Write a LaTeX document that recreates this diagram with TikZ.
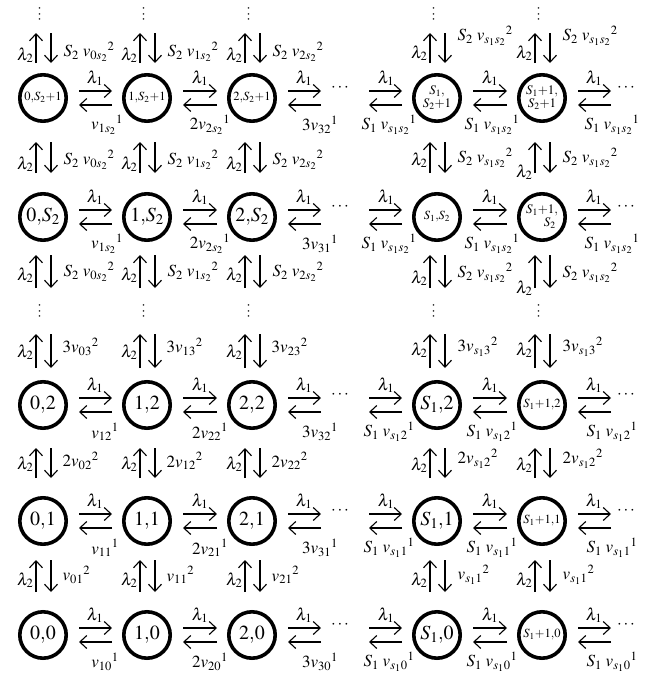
\documentclass[tikz,border=0pt]{standalone}
\usepackage{mathptmx}
\usetikzlibrary{arrows.meta}
\newcounter{lblc}
\tikzset{
 st/.style={circle,draw,line width=3.6pt,minimum size=46.4pt,inner sep=0pt,font=\fontsize{20}{22}\selectfont},
 sm/.style={font=\fontsize{12.5}{13}\selectfont},
 two/.style={font=\fontsize{13}{13}\selectfont,align=center},
 arr/.style={-{Straight Barb[length=7pt,width=13pt]},line width=1.1pt},
 lab/.style={font=\fontsize{17}{19}\selectfont,inner sep=0.5pt},
 dotsty/.style={font=\fontsize{15}{15}\selectfont,inner sep=0pt,rotate=90}
}
\newcommand\Lb[4][]{\stepcounter{lblc}\node[lab,#1] (l\thelblc) at (#2,#3) {$#4$};}
\newcommand\Hpr[4]{%
 \draw[arr] ([xshift=#2,yshift=7pt]#1) -- ([xshift=#4,yshift=7pt]#3);
 \draw[arr] ([xshift=#4,yshift=-7pt]#3) -- ([xshift=#2,yshift=-7pt]#1);}
\newcommand\Vpr[4]{%
 \draw[arr] ([xshift=-7pt,yshift=#2]#1) -- ([xshift=-7pt,yshift=#4]#3);
 \draw[arr] ([xshift=8pt,yshift=#4]#3) -- ([xshift=8pt,yshift=#2]#1);}
\begin{document}
\begin{tikzpicture}[x=1pt,y=-1pt]
\useasboundingbox (0,0) rectangle (651,680);
% states
\node[st,sm] (A0) at (43,98) {$0{,}S_2{+}1$};
\node[st,sm] (A1) at (147,98) {$1{,}S_2{+}1$};
\node[st,sm] (A2) at (252,98) {$2{,}S_2{+}1$};
\node[st,two] (A3) at (437,98) {$S_1{,}$\\$S_2{+}1$};
\node[st,two] (A4) at (542,98) {$S_1{+}1{,}$\\$S_2{+}1$};
\node[st] (B0) at (43,217) {$0{,}S_2$};
\node[st] (B1) at (147,217) {$1{,}S_2$};
\node[st] (B2) at (252,217) {$2{,}S_2$};
\node[st,sm] (B3) at (437,217) {$S_1{,}S_2$};
\node[st,two] (B4) at (542,217) {$S_1{+}1{,}$\\\hspace*{1.2em}$S_2$};
\foreach \r/\Y/\k in {C/405/2,D/521/1,E/635/0}{
 \node[st] (\r0) at (43,\Y) {$0{,}\k$};
 \node[st] (\r1) at (147,\Y) {$1{,}\k$};
 \node[st] (\r2) at (252,\Y) {$2{,}\k$};
 \node[st] (\r3) at (437,\Y) {$S_1{,}\k$};
 \node[st,sm] (\r4) at (542,\Y) {$S_1{+}1{,}\k$};
}
% horizontal transitions
\foreach \r/\Y in {A/98,B/217,C/405,D/521,E/635}{
 \coordinate (\r-R) at (321,\Y);
 \coordinate (\r-L) at (369,\Y);
 \coordinate (\r-E) at (611,\Y);
 \Hpr{\r0.east}{11pt}{\r1.west}{-10pt}
 \Hpr{\r1.east}{11pt}{\r2.west}{-10pt}
 \Hpr{\r2.east}{11pt}{\r-R}{0pt}
 \Hpr{\r-L}{0pt}{\r3.west}{-10pt}
 \Hpr{\r3.east}{11pt}{\r4.west}{-10pt}
 \Hpr{\r4.east}{11pt}{\r-E}{0pt}
 \foreach \lx in {95,200,304,386,490,594}{\Lb{\lx}{\Y-20}{\lambda_1}}
 \Lb{340}{\Y-10}{\cdots}
 \Lb{626}{\Y-10}{\cdots}
}
% vertical transitions
\foreach \c/\X in {0/43,1/147,2/252,3/437,4/542}{
 \coordinate (T\c) at (\X,33);
 \coordinate (Bd\c) at (\X,288);
 \coordinate (U\c) at (\X,334);
 \Vpr{A\c.north}{10pt}{T\c}{0pt}
 \Vpr{B\c.north}{19pt}{A\c.south}{-19pt}
 \Vpr{Bd\c}{0pt}{B\c.south}{-13pt}
 \Vpr{C\c.north}{12pt}{U\c}{0pt}
 \Vpr{D\c.north}{18pt}{C\c.south}{-18pt}
 \Vpr{E\c.north}{18pt}{D\c.south}{-14pt}
 \stepcounter{lblc}\node[dotsty] (l\thelblc) at (\X-3,14) {$\cdots$};
 \stepcounter{lblc}\node[dotsty] (l\thelblc) at (\X-3,311) {$\cdots$};
}
% lower horizontal labels
\Lb{107}{125}{{v_{1s_2}}^{1}}
\Lb{210}{125}{2{v_{2s_2}}^{1}}
\Lb{320}{125}{3{v_{32}}^{1}}
\Lb{107}{244}{{v_{1s_2}}^{1}}
\Lb{210}{244}{2{v_{2s_2}}^{1}}
\Lb{320}{244}{3{v_{31}}^{1}}
\foreach \lx in {389,492,612}{
 \Lb{\lx}{125}{S_1\;{v_{s_1s_2}}^{1}}
 \Lb{\lx}{244}{S_1\;{v_{s_1s_2}}^{1}}
 \Lb{\lx}{432}{S_1\;{v_{s_12}}^{1}}
 \Lb{\lx}{548}{S_1\;{v_{s_11}}^{1}}
 \Lb{\lx}{662}{S_1\;{v_{s_10}}^{1}}
}
\Lb{105}{432}{{v_{12}}^{1}}
\Lb{210}{432}{2{v_{22}}^{1}}
\Lb{320}{432}{3{v_{32}}^{1}}
\Lb{105}{548}{{v_{11}}^{1}}
\Lb{210}{548}{2{v_{21}}^{1}}
\Lb{320}{548}{3{v_{31}}^{1}}
\Lb{105}{662}{{v_{10}}^{1}}
\Lb{210}{662}{2{v_{20}}^{1}}
\Lb{320}{662}{3{v_{30}}^{1}}
% vertical labels, left block
\foreach \c/\X in {0/43,1/147,2/252}{
 \foreach \yl/\yr in {55/52,164/160,275/272}{
  \Lb[anchor=east]{\X-9}{\yl}{\lambda_2}
  \Lb[anchor=west]{\X+20}{\yr}{S_2\;{v_{\c s_2}}^{2}}
 }
 \Lb[anchor=east]{\X-9}{352}{\lambda_2}
 \Lb[anchor=west]{\X+19}{347}{3{v_{\c 3}}^{2}}
 \Lb[anchor=east]{\X-9}{464}{\lambda_2}
 \Lb[anchor=west]{\X+19}{461}{2{v_{\c 2}}^{2}}
 \Lb[anchor=east]{\X-9}{580}{\lambda_2}
 \Lb[anchor=west]{\X+19}{575}{{v_{\c 1}}^{2}}
}
% vertical labels, right block
\foreach \X/\ya/\yb in {437/160/278,542/172/288}{
 \Lb[anchor=east]{\X-9}{53}{\lambda_2}
 \Lb[anchor=west]{\X+20}{36}{S_2\;{v_{s_1s_2}}^{2}}
 \Lb[anchor=east]{\X-9}{\ya}{\lambda_2}
 \Lb[anchor=west]{\X+20}{158}{S_2\;{v_{s_1s_2}}^{2}}
 \Lb[anchor=east]{\X-9}{\yb}{\lambda_2}
 \Lb[anchor=west]{\X+20}{273}{S_2\;{v_{s_1s_2}}^{2}}
 \Lb[anchor=east]{\X-9}{350}{\lambda_2}
 \Lb[anchor=west]{\X+20}{347}{3{v_{s_13}}^{2}}
 \Lb[anchor=east]{\X-9}{465}{\lambda_2}
 \Lb[anchor=west]{\X+20}{459}{2{v_{s_12}}^{2}}
 \Lb[anchor=east]{\X-9}{580}{\lambda_2}
 \Lb[anchor=west]{\X+20}{575}{{v_{s_11}}^{2}}
}
\end{tikzpicture}
\end{document}
